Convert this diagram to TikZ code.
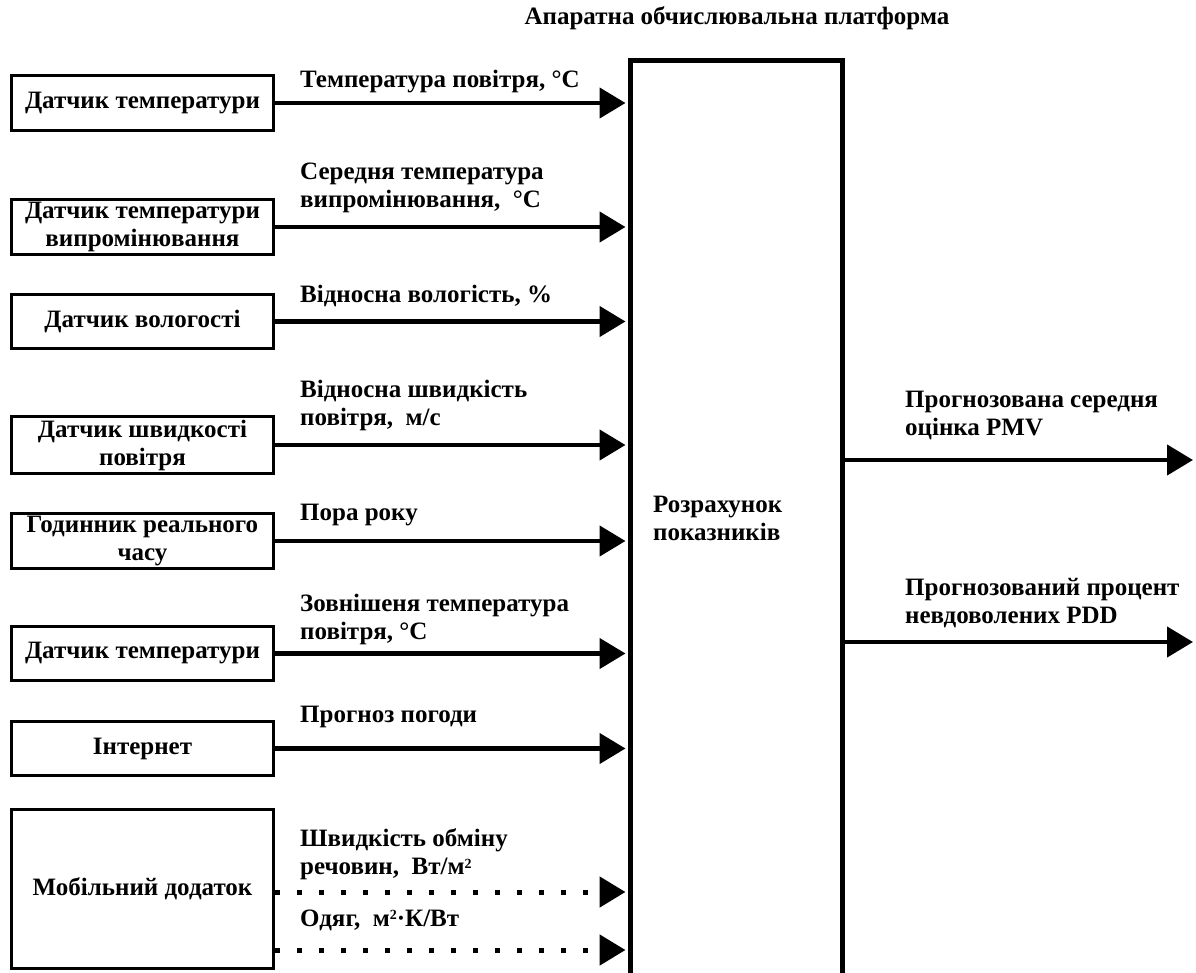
\documentclass[tikz,border=0pt]{standalone}
\usepackage{fontspec}
\setmainfont{Liberation Serif}
\usetikzlibrary{arrows.meta}
\newcommand{\supsq}{\raisebox{0.55ex}{\fontsize{14}{14}\selectfont 2}}
\begin{document}
\begin{tikzpicture}[x=1pt,y=-1pt,
  font=\bfseries\fontsize{25}{28}\selectfont,
  box/.style={draw, line width=3.5pt, minimum width=262pt, align=center, inner sep=0pt},
  plat/.style={draw, line width=5pt, minimum width=212pt, inner sep=0pt},
  flow/.style={line width=4.5pt, -{Triangle[length=26pt,width=30pt]}},
  dotflow/.style={line width=5pt, dash pattern=on 5pt off 17pt, -{Triangle[length=26pt,width=30pt]}},
  lbl/.style={anchor=west, align=left, inner sep=0pt}
]
\useasboundingbox (0,0) rectangle (1196,972);
\clip (0,0) rectangle (1196,972);

% platform
\node[plat, minimum height=940pt] (plat) at (736.5,530.5) {};
\node[inner sep=0pt] (title) at (737,18) {Апаратна обчислювальна платформа};
\node[lbl] (calc) at (653,518.5) {Розрахунок\\показників};

% sources
\node[box, minimum height=55pt] (b1) at (142.5,103) {Датчик температури};
\node[box, minimum height=55pt] (b2) at (142.5,227) {Датчик температури\\випромінювання};
\node[box, minimum height=54pt] (b3) at (142.5,321.5) {Датчик вологості};
\node[box, minimum height=57pt] (b4) at (142.5,445) {Датчик швидкості\\повітря};
\node[box, minimum height=55pt] (b5) at (142.5,541) {Годинник реального\\часу};
\node[box, minimum height=54pt] (b6) at (142.5,653.5) {Датчик температури};
\node[box, minimum height=54pt] (b7) at (142.5,748.5) {Інтернет};
\node[box, minimum height=159pt] (b8) at (142.5,889) {Мобільний додаток};

% labels
\node[lbl] (l1) at (300,82) {Температура повітря, °C};
\node[lbl] (l2) at (300,187.5) {Середня температура\\випромінювання,\ \ °C};
\node[lbl] (l3) at (300,296) {Відносна вологість, \%};
\node[lbl] (l4) at (300,405) {Відносна швидкість\\повітря,\ \ м/с};
\node[lbl] (l5) at (300,515) {Пора року};
\node[lbl] (l6) at (300,619) {Зовнішеня температура\\повітря, °C};
\node[lbl] (l7) at (300,717) {Прогноз погоди};
\node[lbl] (l8) at (300,854.5) {Швидкість обміну\\речовин,\ \ Вт/м\supsq};
\node[lbl] (l9) at (300,920) {Одяг,\ \ м\supsq·К/Вт};
\node[lbl] (r1) at (905,415.5) {Прогнозована середня\\оцінка PMV};
\node[lbl] (r2) at (905,603.5) {Прогнозований процент\\невдоволених PDD};

% input connectors
\foreach \b in {b1,b2,b3,b4,b5,b6,b7}
  \draw[flow, shorten >=2.5pt] (\b.east) -- (\b.east -| plat.west);

\coordinate (m1) at (b8.east |- 0,892);
\coordinate (m2) at (b8.east |- 0,950);
\draw[dotflow, shorten >=2.5pt] (m1) -- (m1 -| plat.west);
\draw[dotflow, shorten >=2.5pt] (m2) -- (m2 -| plat.west);

% outputs
\coordinate (o1s) at (plat.east |- 0,460);
\coordinate (o1e) at (1193,460);
\coordinate (o2s) at (plat.east |- 0,642);
\coordinate (o2e) at (1193,642);
\draw[flow] (o1s) -- (o1e);
\draw[flow] (o2s) -- (o2e);
\end{tikzpicture}
\end{document}
